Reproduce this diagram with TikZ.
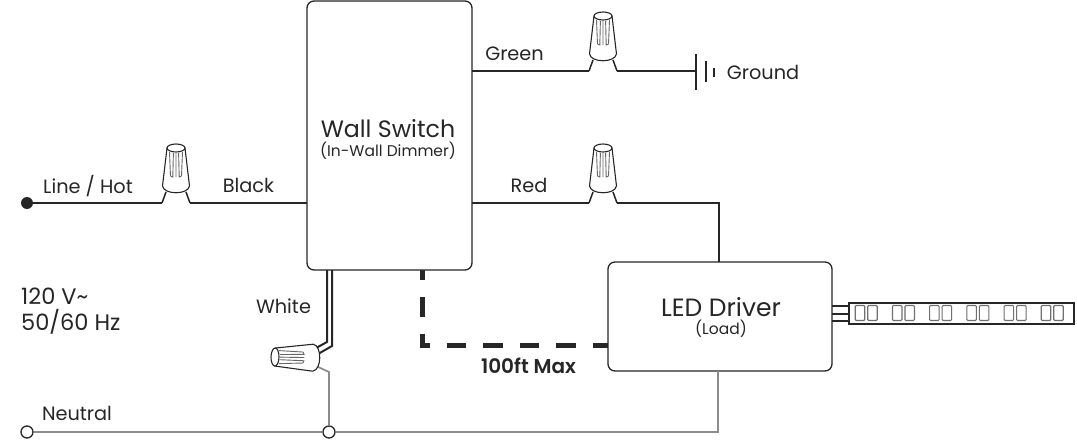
\documentclass[tikz,border=0pt]{standalone}
\usepackage{fontspec}
\setmainfont{Poppins}
\newfontface\semibold{Poppins SemiBold}
\definecolor{ink}{HTML}{262626}
\definecolor{wiregray}{HTML}{8C8C8C}
\tikzset{
  wire/.style={draw=ink,line width=2pt},
  graywire/.style={draw=wiregray,line width=1.7pt},
  nutline/.style={draw=ink,line width=1.1pt,line join=round},
  box/.style={draw=ink,line width=1.3pt,rounded corners=7pt,fill=white,inner sep=0pt},
  lab/.style={text=ink,font=\fontsize{19.3}{22}\selectfont,inner sep=0pt,anchor=center},
  title/.style={text=ink,font=\fontsize{23.7}{26}\selectfont,inner sep=0pt,anchor=center},
  sub/.style={text=ink,font=\fontsize{15.5}{18}\selectfont,inner sep=0pt,anchor=center},
  cell/.style={draw=wiregray!80!black,line width=1.1pt,rounded corners=1pt,minimum width=9.5pt,minimum height=15pt,inner sep=0pt},
  junction/.style={circle,draw=ink,line width=1.3pt,fill=white,minimum size=12pt,inner sep=0pt}
}
\newcommand{\wirenut}[3]{%
\begin{scope}[shift={(#1,#2)},rotate=#3]
  \draw[nutline,fill=white] (-9,-55) -- (-13.5,-17) .. controls (-12,-8) and (12,-8) .. (13.5,-17) -- (9,-55) -- cycle;
  \draw[nutline,fill=white] (0,-55) ellipse (9 and 4);
  \draw[draw=ink!70,line width=.9pt] (-6.5,-51) -- (-5.5,-27) -- (-3.2,-26) -- (-2.6,-50) (2.6,-50) -- (3.2,-26) -- (5.5,-27) -- (6.5,-51) (0,-50) -- (0,-26);
\end{scope}}
\begin{document}
\begin{tikzpicture}[x=1pt,y=-1pt]
\useasboundingbox (0,0) rectangle (1077,447);
% dashed
\coordinate (da) at (422,270); \coordinate (db) at (422,345.5); \coordinate (dc) at (608,345.5);
\draw[draw=ink,line width=5pt,dash pattern=on 19.5pt off 17pt,dash phase=9.5pt] (da) -- (db) -- (dc);
% boxes
\node[box,minimum width=165pt,minimum height=269pt] (sw) at (389.5,135.5) {};
\node[box,minimum width=224pt,minimum height=109pt] (drv) at (720,316.5) {};
\node[title] (swt) at (388,129) {Wall Switch};
\node[sub] (sws) at (388,151) {(In-Wall Dimmer)};
\node[title,font=\fontsize{25}{28}\selectfont] (drt) at (721,307) {LED Driver};
\node[sub] (drs) at (721,329) {(Load)};
% coordinates
\node[circle,fill=ink,minimum size=12pt,inner sep=0pt] (hot) at (27,203) {};
\coordinate (b1) at (162,203);
\coordinate (b1up) at (166,192);
\coordinate (b2) at (190,203);
\coordinate (b2up) at (186,192);
\coordinate (swl) at (307,203);
\draw[wire] (hot) -- (b1) (b2) -- (swl);
\draw[wire,line width=1.5pt] (b1) -- (b1up) (b2) -- (b2up);
\wirenut{176}{203}{0}
% green
\coordinate (g0) at (472,71);
\coordinate (g1) at (589,71);
\coordinate (g1up) at (593,60);
\coordinate (g2) at (617,71);
\coordinate (g2up) at (613,60);
\coordinate (gnd) at (696,71);
\draw[wire] (g0) -- (g1) (g2) -- (gnd);
\draw[wire,line width=1.5pt] (g1) -- (g1up) (g2) -- (g2up);
\wirenut{603}{71}{0}
\coordinate (ga1) at (696,54); \coordinate (ga2) at (696,90);
\coordinate (gb1) at (706,61); \coordinate (gb2) at (706,82);
\coordinate (gc1) at (714,68); \coordinate (gc2) at (714,77);
\draw[wire] (ga1) -- (ga2) (gb1) -- (gb2) (gc1) -- (gc2);
% red
\coordinate (r0) at (472,203);
\coordinate (r1) at (589,203);
\coordinate (r1up) at (593,192);
\coordinate (r2) at (617,203);
\coordinate (r2up) at (613,192);
\coordinate (rc) at (719,203);
\coordinate (rd) at (719,262);
\draw[wire] (r0) -- (r1);
\draw[wire,line join=miter] (r2) -- (rc) -- (rd);
\draw[wire,line width=1.5pt] (r1) -- (r1up) (r2) -- (r2up);
\wirenut{603}{203}{0}
% neutral
\node[junction] (nl) at (27,432) {};
\node[junction] (nj) at (329,432) {};
\coordinate (nc) at (718,432);
\coordinate (nd) at (718,371);
\draw[graywire] (nl) -- (nj) -- (nc) -- (nd);
% white wires
\coordinate (w1a) at (327,270); \coordinate (w1b) at (327,342); \coordinate (w1c) at (316,348);
\coordinate (w2a) at (332,270); \coordinate (w2b) at (332,346); \coordinate (w2c) at (318,354);
\draw[wire] (w1a) -- (w1b) -- (w1c) (w2a) -- (w2b) -- (w2c);
\coordinate (y1) at (316,366); \coordinate (y2) at (329,372);
\draw[graywire] (y1) -- (y2) -- (nj);
\wirenut{330}{358}{89}
% strip
\node[draw=ink,line width=2pt,minimum width=225pt,minimum height=21pt,inner sep=0pt,fill=white] (strip) at (961,313) {};
\coordinate (s1) at (832,306); \coordinate (s1e) at (848,306);
\coordinate (s2) at (832,313.5); \coordinate (s2e) at (848,313.5);
\coordinate (s3) at (832,321); \coordinate (s3e) at (848,321);
\draw[wire] (s1) -- (s1e) (s2) -- (s2e) (s3) -- (s3e);
\foreach \i/\x in {1/860,2/872.5,3/897.2,4/909.7,5/934.4,6/946.9,7/971.6,8/984.1,9/1008.8,10/1021.3,11/1046,12/1058.5}
  \node[cell] (c\i) at (\x,313) {};
% labels
\node[lab] (t1) at (88,186) {Line / Hot};
\node[lab] (t2) at (248.5,185) {Black};
\node[lab] (t3) at (514.5,54) {Green};
\node[lab] (t4) at (529,185) {Red};
\node[lab] (t5) at (283.5,306) {White};
\node[lab] (t6) at (763,72) {Ground};
\node[lab] (t7) at (77,413) {Neutral};
\node[text=ink,font=\fontsize{22.5}{25}\selectfont,inner sep=0pt,anchor=base west] (t8) at (21,304) {120 V\char`~};
\node[text=ink,font=\fontsize{22.5}{25}\selectfont,inner sep=0pt,anchor=base west] (t9) at (21,330) {50/60 Hz};
\node[lab,font=\fontsize{20}{22}\selectfont\semibold] (t10) at (528.5,366) {100ft Max};
\end{tikzpicture}
\end{document}
